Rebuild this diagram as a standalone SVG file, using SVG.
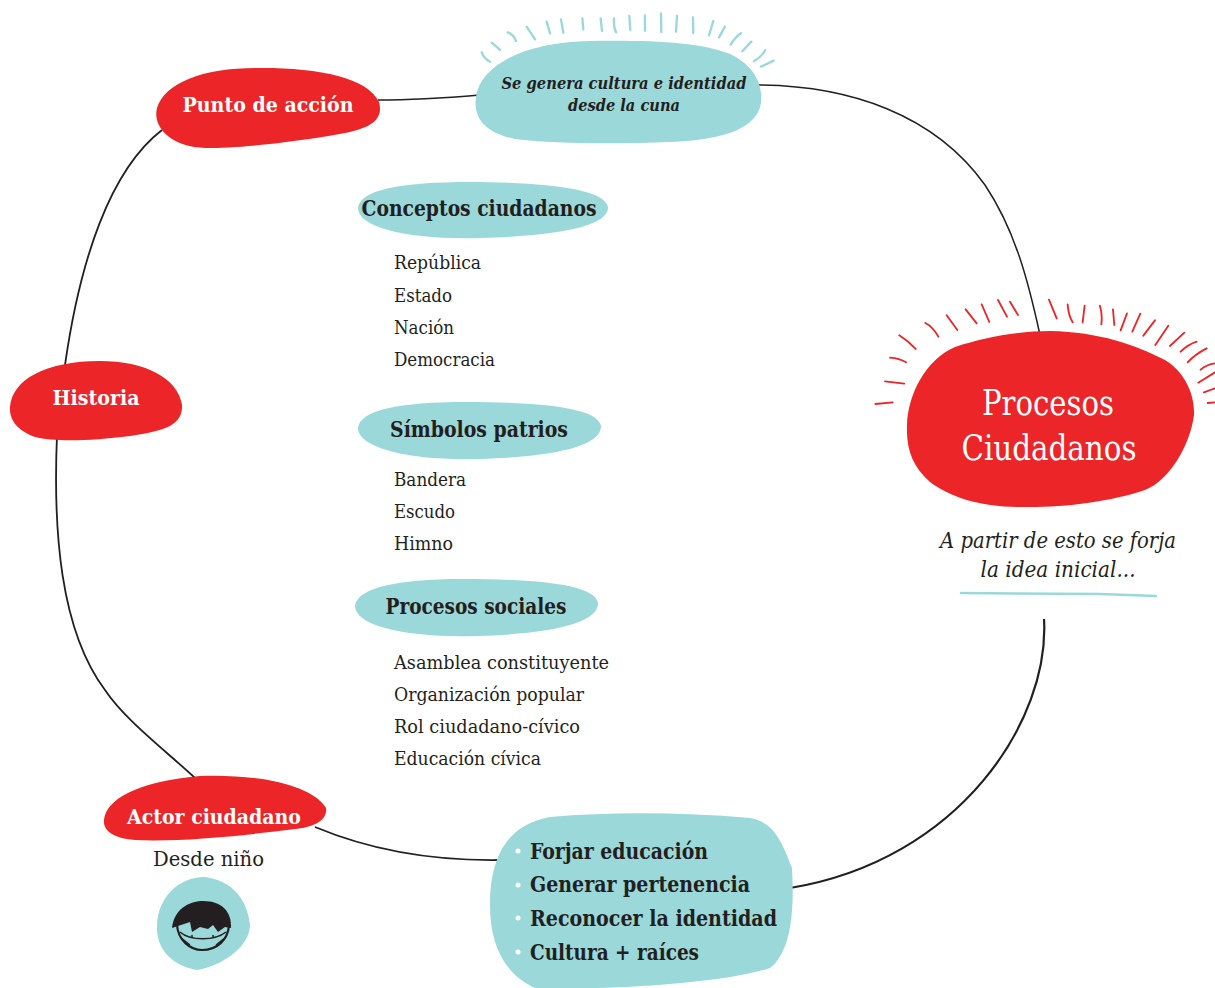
<svg xmlns="http://www.w3.org/2000/svg" width="1215" height="988" viewBox="0 0 1215 988">
<style>
text{font-family:"DejaVu Serif","Liberation Serif",serif;font-stretch:condensed;fill:#231f20}
.r{fill:#ec2529}.t{fill:#9bd8d9}
.b{font-weight:700}
.w{fill:#fff;font-weight:700;font-size:20px;text-anchor:middle}
.h{font-weight:700;font-size:22px;text-anchor:middle}
.l{font-size:19px}
.li{font-weight:700;font-size:22px}
.c{fill:none;stroke:#231f20;stroke-width:1.8}
.i{font-style:italic;text-anchor:middle}
</style>
<g id="connectors">
<path class="c" style="stroke-width:1.5" d="M378 100C410 100 445 98 480 95"/>
<path class="c" style="stroke-width:1.5" d="M755 85C850 85 935 115 985 185C1015 230 1028 280 1040 335"/>
<path class="c" d="M162 130C110 170 80 260 65 365"/>
<path class="c" d="M57 435C53 530 60 630 105 690C125 720 165 750 195 778"/>
<path class="c" d="M315 827C370 850 430 861 500 860"/>
<path class="c" style="stroke-width:2.2" d="M1044 619C1050 720 960 860 790 888"/>
</g>
<g id="node-punto"><path class="r" d="M157 108C165 82 205 67 262 68C320 68 368 78 379 102C384 120 370 128 345 133C290 143 240 148 205 148C172 147 152 128 157 108Z"/>
<text class="w" x="268" y="112" textLength="171" lengthAdjust="spacingAndGlyphs">Punto de acción</text></g>
<g id="node-cultura"><path class="t" d="M476 97C480 65 525 42 590 41C650 40 700 42 730 54C755 66 763 85 761 103C757 128 725 140 670 142C620 144 555 144 515 139C485 133 473 118 476 97Z"/>
<g fill="none" stroke="#9bd8d9" stroke-width="7" stroke-linecap="round" transform="translate(460 0) scale(.3333)"><path d="M65 157Q72 175 90 185M95 128L120 150M143 97Q160 102 168 123M200 80L225 118M260 65L270 100M303 58L310 98M367 55L370 88M422 55L426 93M462 55Q460 80 468 97M508 48L511 90M555 46V92M603 40L604 96M651 48L648 95M699 52L700 100M760 63L747 106M795 80L777 112M843 100Q825 112 812 134M874 125L847 154M916 150Q905 170 882 184M941 182L903 200"/></g>
<text class="i b" x="624" y="89" font-size="17" textLength="245" lengthAdjust="spacingAndGlyphs">Se genera cultura e identidad</text>
<text class="i b" x="624" y="111" font-size="17" textLength="112" lengthAdjust="spacingAndGlyphs">desde la cuna</text></g>
<g id="node-conceptos"><path class="t" d="M358 208C360 190 400 182 470 182C540 182 605 188 608 207C609 226 560 236 480 238C410 240 358 228 358 208Z"/>
<text class="h" x="479" y="216" textLength="235" lengthAdjust="spacingAndGlyphs">Conceptos ciudadanos</text>
<text class="l" x="394" y="269" textLength="87" lengthAdjust="spacingAndGlyphs">República</text>
<text class="l" x="394" y="302" textLength="58" lengthAdjust="spacingAndGlyphs">Estado</text>
<text class="l" x="394" y="334" textLength="60" lengthAdjust="spacingAndGlyphs">Nación</text>
<text class="l" x="394" y="366" textLength="101" lengthAdjust="spacingAndGlyphs">Democracia</text></g>
<g id="node-simbolos"><path class="t" d="M358 428C360 410 400 402 465 402C530 402 598 406 601 426C602 446 555 457 480 459C410 461 358 448 358 428Z"/>
<text class="h" x="479" y="437" textLength="178" lengthAdjust="spacingAndGlyphs">Símbolos patrios</text>
<text class="l" x="394" y="486" textLength="72" lengthAdjust="spacingAndGlyphs">Bandera</text>
<text class="l" x="394" y="518" textLength="61" lengthAdjust="spacingAndGlyphs">Escudo</text>
<text class="l" x="394" y="550" textLength="59" lengthAdjust="spacingAndGlyphs">Himno</text></g>
<g id="node-procesos"><path class="t" d="M355 606C357 588 397 579 462 579C527 579 595 583 598 603C599 623 552 634 477 636C407 638 355 626 355 606Z"/>
<text class="h" x="476" y="614" textLength="181" lengthAdjust="spacingAndGlyphs">Procesos sociales</text>
<text class="l" x="394" y="669" textLength="215" lengthAdjust="spacingAndGlyphs">Asamblea constituyente</text>
<text class="l" x="394" y="701" textLength="190" lengthAdjust="spacingAndGlyphs">Organización popular</text>
<text class="l" x="394" y="733" textLength="186" lengthAdjust="spacingAndGlyphs">Rol ciudadano-cívico</text>
<text class="l" x="394" y="765" textLength="147" lengthAdjust="spacingAndGlyphs">Educación cívica</text></g>
<g id="node-historia"><path class="r" d="M10 407C12 380 45 361 100 361C145 361 178 378 182 405C183 425 165 431 130 436C90 441 55 442 35 437C18 431 9 420 10 407Z"/>
<text class="w" x="96" y="405" textLength="87" lengthAdjust="spacingAndGlyphs">Historia</text></g>
<g id="node-actor"><path class="r" d="M104 820C106 800 135 782 200 776C260 774 312 785 326 808C328 822 310 828 295 829C240 836 180 842 135 840C112 838 103 830 104 820Z"/>
<text class="w" x="214" y="824" textLength="174" lengthAdjust="spacingAndGlyphs">Actor ciudadano</text>
<text class="l" x="153" y="866" textLength="111" lengthAdjust="spacingAndGlyphs" style="font-size:20px">Desde niño</text></g>
<g id="node-nino"><path class="t" d="M157 925C158 898 178 877 205 877C228 880 247 895 250 925C250 945 225 965 197 970C172 965 156 950 157 925Z"/>
<path fill="none" stroke="#231f20" stroke-width="2.2" d="M177 925C178 940 190 950 202 950C217 950 228 940 229 925"/>
<path fill="none" stroke="#231f20" stroke-width="1.4" d="M180 932C190 941 215 941 226 932M180 937L190 945M226 937L216 945"/>
<path fill="#231f20" d="M172 928C174 910 188 901 203 901C222 901 232 912 231 928L225 927L218 932L213 925L208 929L200 927L192 932L190 922C184 924 178 926 172 928Z"/>
<circle cx="192" cy="936" r="1" fill="#231f20"/><circle cx="213" cy="936" r="1" fill="#231f20"/></g>
<g id="node-forjar"><path class="t" d="M490 905C490 860 505 825 550 817C610 812 680 812 750 818C775 822 783 845 792 868C794 905 793 950 770 968C715 985 600 990 535 988C505 975 490 945 490 905Z"/>
<g fill="#fff"><circle cx="518" cy="851" r="2.5"/><circle cx="518" cy="885" r="2.5"/><circle cx="518" cy="918" r="2.5"/><circle cx="518" cy="952" r="2.5"/></g>
<text class="li" x="530" y="859" textLength="178" lengthAdjust="spacingAndGlyphs">Forjar educación</text>
<text class="li" x="530" y="892" textLength="220" lengthAdjust="spacingAndGlyphs">Generar pertenencia</text>
<text class="li" x="530" y="926" textLength="247" lengthAdjust="spacingAndGlyphs">Reconocer la identidad</text>
<text class="li" x="530" y="960" textLength="169" lengthAdjust="spacingAndGlyphs">Cultura + raíces</text></g>
<g id="node-main"><path class="r" d="M907 425C908 395 925 360 955 347C985 337 1020 331 1050 331C1100 332 1135 345 1165 360C1185 372 1195 395 1194 415C1190 445 1170 480 1145 490C1110 502 1060 508 1020 507C980 507 950 497 930 482C913 467 906 450 907 425Z"/>
<g fill="none" stroke="#ec2529" stroke-linecap="round" transform="translate(860 285) scale(.3333)" stroke-width="5.5"><path d="M46 357L98 352M75 289L133 296M90 218Q118 220 138 232M118 151Q145 168 167 192M196 114Q218 125 235 155M260 91L292 135M317 73L350 115M365 58L388 111M414 45L441 95M450 50L474 90M567 44L590 100M623 58Q625 90 638 112M674 62L668 112M720 62Q728 90 724 118M759 73L763 120M801 85L782 136M841 86L817 140M885 106L850 152M925 122L886 180M973 143L930 183M1010 170Q985 178 962 200M1040 190Q1005 208 983 232M1065 235Q1040 238 1022 254M1065 262L1015 293M1065 310L1032 322M1065 352L1043 354"/></g>
<text x="1048" y="415" font-size="36" text-anchor="middle" style="fill:#fff" textLength="132" lengthAdjust="spacingAndGlyphs">Procesos</text>
<text x="1049" y="460" font-size="36" text-anchor="middle" style="fill:#fff" textLength="175" lengthAdjust="spacingAndGlyphs">Ciudadanos</text>
<text class="i" x="1058" y="548" font-size="22" textLength="236" lengthAdjust="spacingAndGlyphs">A partir de esto se forja</text>
<text class="i" x="1058" y="577" font-size="22" textLength="155" lengthAdjust="spacingAndGlyphs">la idea inicial...</text>
<path d="M961 593L1100 594L1156 596" fill="none" stroke="#9bd8d9" stroke-width="2.5" stroke-linecap="round"/></g>
</svg>
